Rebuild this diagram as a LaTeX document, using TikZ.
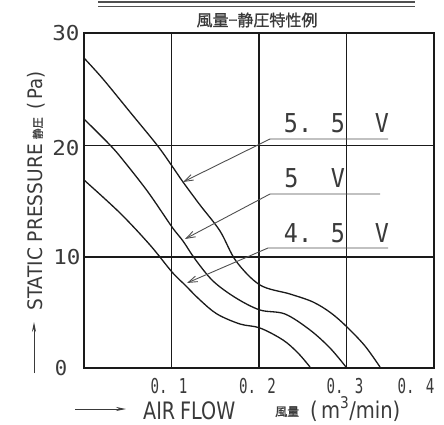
\documentclass[tikz,border=0pt]{standalone}
\usepackage{fontspec}
\usetikzlibrary{arrows.meta}
\setmainfont{DejaVu Sans}
\newfontfamily\cjkf[FakeBold=1.2]{Noto Sans CJK JP}
\newfontfamily\monof{DejaVu Sans Mono}
\definecolor{ink}{HTML}{1A1A1A}
\definecolor{txt}{HTML}{3A3A3A}
\definecolor{lead}{HTML}{505050}
\begin{document}
\begin{tikzpicture}[x=1pt,y=-1pt,
  frame/.style={draw=ink, line width=1.7pt},
  gridln/.style={draw=ink, line width=1.4pt},
  curve/.style={draw=ink, line width=1.3pt, smooth, tension=0.55},
  leader/.style={draw=lead, line width=0.9pt, -{Straight Barb[length=9pt,width=6pt]}},
  xtick/.style={inner sep=0pt, text=txt, font=\monof\fontsize{20.5}{20.5}\selectfont},
  ytick/.style={inner sep=0pt, text=txt, font=\monof\fontsize{20.5}{20.5}\selectfont},
  vlab/.style={inner sep=0pt, text=txt, font=\monof\fontsize{26}{26}\selectfont},
  axarrow/.style={draw=txt, line width=1pt, -{Stealth[length=10pt,width=4pt]}}
]
\useasboundingbox (0,0) rectangle (444,425);
\fill[white] (0,0) rectangle (444,425);

% title
\draw[draw=lead, line width=1.3pt] (98,2) -- (415,2);
\draw[draw=lead, line width=1.3pt] (98,6.5) -- (415,6.5);
\node[inner sep=0pt, text=txt, font=\cjkf\fontsize{16}{16}\selectfont] (title) at (257,20) {風量−静圧特性例};

% grid
\draw[gridln] (171.5,33) -- (171.5,368);
\draw[gridln] (259,33) -- (259,368);
\draw[gridln] (346.5,33) -- (346.5,368);
\draw[gridln] (84,145.7) -- (434,145.7);
\draw[gridln] (84,256.8) -- (434,256.8);
\draw[frame] (84,33) rectangle (434,368);

% curves
\draw[curve] plot coordinates {(84,58) (103,79) (130,112) (157,145) (172,166) (183,182) (200,205) (220,231) (236,261) (260,285) (290,294) (313,302) (331,313) (347,327) (365,346) (380,367)};
\draw[curve] plot coordinates {(84,119) (110,145) (123,160) (148,192) (172,227) (183,241) (195,259) (213,281) (236,298) (260,310) (285,314) (310,330) (330,348) (346,367)};
\draw[curve] plot coordinates {(84,180) (120,213) (150,245) (172,272) (185,285) (200,300) (217,314) (240,324) (260,328) (283,340) (298,353) (310,367)};

% tick labels
\node[ytick] (y30) at (66,33) {\scalebox{1.1}[1]{30}};
\node[ytick] (y20) at (66,148) {\scalebox{1.1}[1]{20}};
\node[ytick] (y10) at (67,257) {\scalebox{1.1}[1]{10}};
\node[ytick] (y0) at (61,368) {0};
\node[xtick] (x1) at (169,386) {\scalebox{0.69}[1]{0. 1}};
\node[xtick] (x2) at (257.5,386) {\scalebox{0.69}[1]{0. 2}};
\node[xtick] (x3) at (345,386) {\scalebox{0.69}[1]{0. 3}};
\node[xtick] (x4) at (416,386) {\scalebox{0.69}[1]{0. 4}};

% voltage labels
\node[vlab] (v55) at (314.5,123) {\scalebox{0.9}[1]{5. 5}};
\node[vlab] (v55v) at (382,123) {\scalebox{0.9}[1]{V}};
\node[vlab] (v5) at (291.5,178) {\scalebox{0.9}[1]{5}};
\node[vlab] (v5v) at (338,178) {\scalebox{0.9}[1]{V}};
\node[vlab] (v45) at (314.5,233) {\scalebox{0.9}[1]{4. 5}};
\node[vlab] (v45v) at (382,233) {\scalebox{0.9}[1]{V}};

\coordinate (e55) at (388,139);
\coordinate (k55) at (270,139);
\coordinate (t55) at (183,182);
\coordinate (e5) at (380,194);
\coordinate (k5) at (270,194);
\coordinate (t5) at (185,239);
\coordinate (e45) at (388,248);
\coordinate (k45) at (268,248);
\coordinate (t45) at (187,283);
\draw[leader] (e55) -- (k55) -- (t55);
\draw[leader] (e5) -- (k5) -- (t5);
\draw[leader] (e45) -- (k45) -- (t45);

% axis titles
\coordinate (ya0) at (34,373);
\coordinate (ya1) at (34,322);
\draw[axarrow] (ya0) -- (ya1);
\node[rotate=90, anchor=base west, inner sep=0pt, text=txt, font=\fontsize{20}{20}\selectfont] (ytitle) at (42,311)
  {\scalebox{0.93}[1]{STATIC PRESSURE}\hspace{5pt}{\cjkf\fontsize{11}{11}\selectfont 静圧}\hspace{8pt}\scalebox{0.9}[1]{(\,Pa)}};

\coordinate (xa0) at (75,409);
\coordinate (xa1) at (126,409);
\draw[axarrow] (xa0) -- (xa1);
\node[anchor=base west, inner sep=0pt, text=txt, font=\fontsize{24}{24}\selectfont] (xtitle) at (143,419)
  {\scalebox{0.8}[1]{AIR\hspace{6pt}FLOW}};
\node[anchor=base west, inner sep=0pt, text=txt, font=\cjkf\fontsize{12}{12}\selectfont] (xcjk) at (275,416) {風量};
\node[anchor=base west, inner sep=0pt, text=txt, font=\fontsize{23}{23}\selectfont] (xunit) at (310,418)
  {\scalebox{0.85}[1]{(\,m$^{\mathrm{3}}$/min)}};
\end{tikzpicture}
\end{document}
